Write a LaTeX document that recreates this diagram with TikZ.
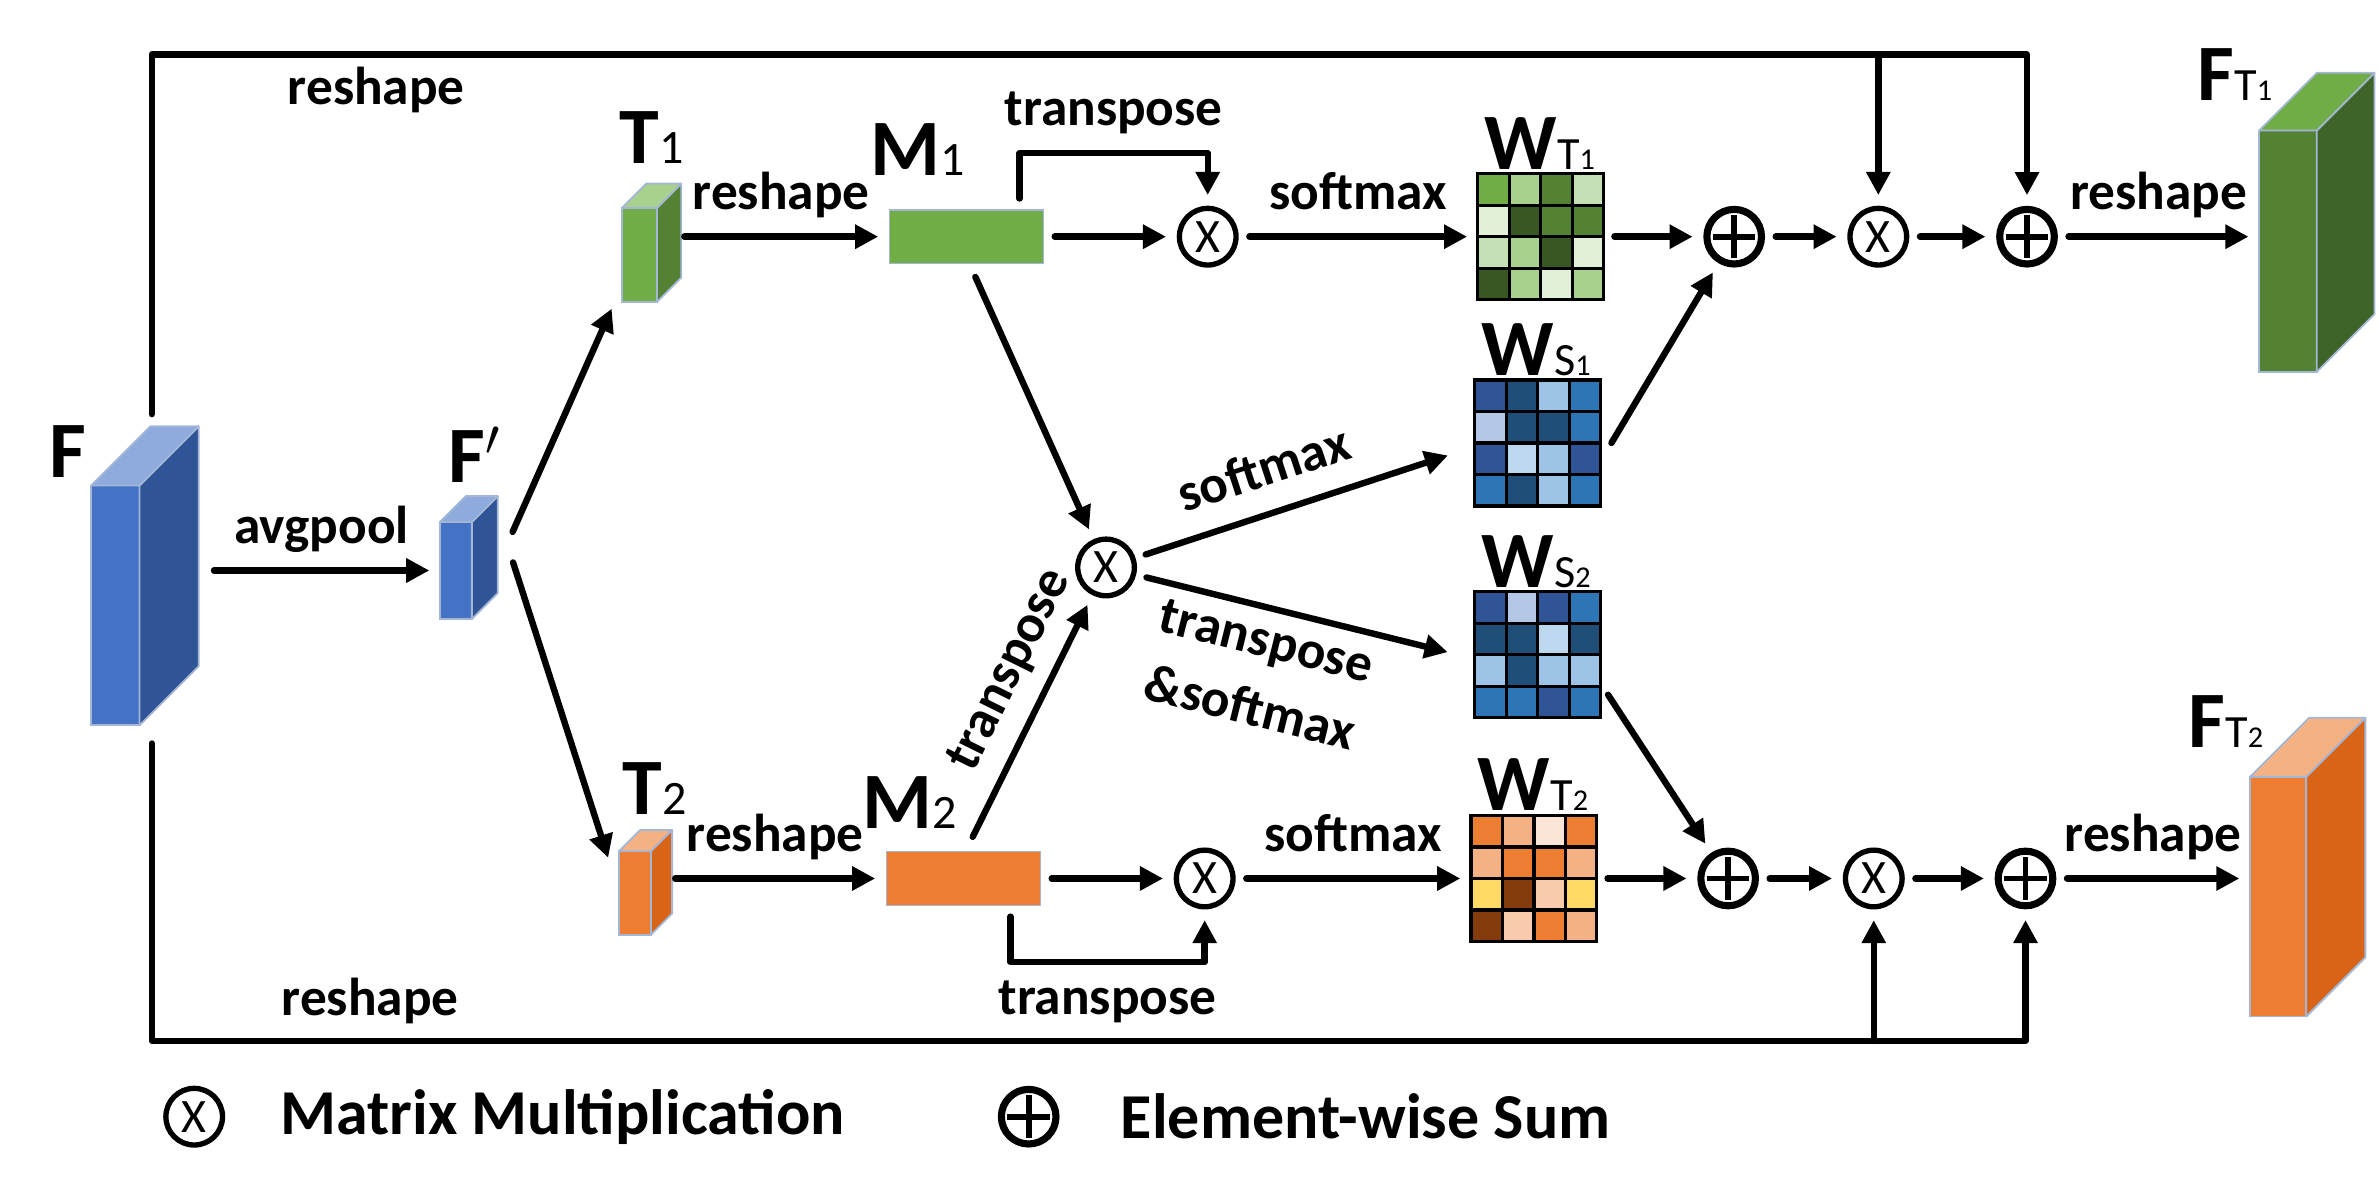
\documentclass[tikz,border=0pt]{standalone}
\usepackage{fontspec}
\setmainfont{Carlito}
\usetikzlibrary{arrows.meta, calc, positioning}

% colours of the faces and cells
\definecolor{edgeblue}{HTML}{A3B6D6}
\definecolor{bFront}{HTML}{4472C4}
\definecolor{bSide}{HTML}{2F5597}
\definecolor{bTop}{HTML}{8FAADC}
\definecolor{gA}{HTML}{70AD47}
\definecolor{gL}{HTML}{A9D18E}
\definecolor{gD}{HTML}{548235}
\definecolor{gXL}{HTML}{C5E0B4}
\definecolor{gXXL}{HTML}{E2F0D9}
\definecolor{gK}{HTML}{385723}
\definecolor{gSide}{HTML}{3F6428}
\definecolor{bR}{HTML}{2F5597}
\definecolor{bN}{HTML}{1F4E79}
\definecolor{bL}{HTML}{9DC3E6}
\definecolor{bM}{HTML}{2E75B6}
\definecolor{bV}{HTML}{B4C7E7}
\definecolor{bXL}{HTML}{BDD7EE}
\definecolor{oA}{HTML}{ED7D31}
\definecolor{oL}{HTML}{F4B183}
\definecolor{oXL}{HTML}{FBE5D6}
\definecolor{oY}{HTML}{FFD966}
\definecolor{oK}{HTML}{843C0C}
\definecolor{oP}{HTML}{F8CBAD}
\definecolor{oSide}{HTML}{D86418}

\newcommand{\nsub}[1]{{\fontsize{13.5}{13.5}\selectfont\mdseries #1}}
\newcommand{\wsub}[2]{{\fontsize{13}{13}\selectfont\mdseries #1{\fontsize{8.5}{8.5}\selectfont #2}}}

% name, front centre, width, height, depth, front, side, top
\newcommand{\featcube}[8]{%
  \node[cubeface, fill=#6, minimum width=#3*0.015cm, minimum height=#4*0.015cm] (#1) at (#2) {};
  \filldraw[cubeedge, fill=#7] (#1.south east) -- ++(#5,-#5) -- ++(0,-#4) -- (#1.north east) -- cycle;
  \filldraw[cubeedge, fill=#8] (#1.north west) -- ++(#5,-#5) -- ++(#3,0) -- (#1.north east) -- cycle;
}

% name, centre, 16 cell colours row by row
\newcommand{\wgrid}[3]{%
  \node[gridbox] (#1) at (#2) {};
  \foreach \wcolor [count=\wi from 0] in {#3} {%
    \pgfmathtruncatemacro{\wrow}{\wi/4}%
    \pgfmathtruncatemacro{\wcol}{mod(\wi,4)}%
    \fill[\wcolor] ($(#1.north west)+(\wcol*20.75,\wrow*20.75)$) rectangle ++(20.75,20.75);
  }
  \foreach \k in {0,...,4} {%
    \draw[gridline] ($(#1.north west)+(\k*20.75,0)$) -- ++(0,83);
    \draw[gridline] ($(#1.north west)+(0,\k*20.75)$) -- ++(83,0);
  }
}

\tikzset{
  arr/.style={line width=1.8pt, line cap=round, line join=round,
    -{Triangle[length=6.5pt,width=6.5pt]}, shorten >=3pt, shorten <=3pt},
  lbl/.style={font=\fontsize{15}{19.5}\selectfont\bfseries, inner sep=3.5pt},
  arrlbl/.style={lbl, text height=10.2pt, text depth=3.3pt},
  big/.style={font=\fontsize{22.5}{27}\selectfont\bfseries, inner sep=0pt},
  legend/.style={font=\fontsize{18}{22}\selectfont\bfseries, inner sep=0pt},
  mult/.style={circle, draw, line width=1.5pt, minimum size=0.56cm, inner sep=0pt,
    font=\fontsize{13.5}{13.5}\selectfont},
  plus/.style={circle, draw, line width=2pt, minimum size=0.54cm, inner sep=0pt,
    path picture={
      \draw[line width=1.6pt] ([xshift=-0.21cm]path picture bounding box.center) -- ([xshift=0.21cm]path picture bounding box.center);
      \draw[line width=1.6pt] ([yshift=-0.21cm]path picture bounding box.center) -- ([yshift=0.21cm]path picture bounding box.center);
    }},
  cubeface/.style={rectangle, draw=edgeblue, line width=0.5pt, inner sep=0pt, outer sep=0pt},
  cubeedge/.style={draw=edgeblue, line width=0.5pt, line join=round},
  mrect/.style={rectangle, draw=edgeblue, line width=0.4pt, minimum width=1.52cm, minimum height=0.53cm, inner sep=0pt},
  gridbox/.style={rectangle, minimum size=1.245cm, inner sep=0pt, outer sep=0pt},
  gridline/.style={line width=0.9pt, line cap=rect},
}

\begin{document}
\begin{tikzpicture}[x=0.015cm, y=-0.015cm]
  \useasboundingbox (0,0) rectangle (1568,784);

  % feature maps
  \featcube{F}{76,399}{32}{158}{39}{bFront}{bSide}{bTop}
  \featcube{Fp}{300.5,376}{21}{64}{17}{bFront}{bSide}{bTop}
  \featcube{T1}{421.5,168}{23}{62}{16}{gA}{gD}{gL}
  \featcube{T2}{418.5,588.5}{21}{55}{14}{oA}{oSide}{oL}
  \featcube{FT1}{1508,165.5}{38}{159}{38}{gD}{gSide}{gA}
  \featcube{FT2}{1501.5,591}{37}{158}{39}{oA}{oSide}{oL}

  \node[mrect, fill=gA] (M1) at (637,156) {};
  \node[mrect, fill=oA] (M2) at (635,579) {};

  % weight matrices
  \wgrid{WT1}{1015.5,156}{gA,gL,gD,gXL, gXXL,gK,gD,gD, gXL,gL,gK,gXXL, gK,gL,gXXL,gL}
  \wgrid{WS1}{1013.5,292}{bR,bN,bL,bM, bV,bN,bN,bM, bR,bXL,bL,bR, bM,bN,bL,bM}
  \wgrid{WS2}{1013.5,431.5}{bR,bV,bR,bM, bN,bN,bXL,bN, bL,bN,bL,bL, bM,bM,bR,bM}
  \wgrid{WT2}{1011,579}{oA,oL,oXL,oA, oL,oA,oA,oL, oY,oK,oP,oY, oK,oP,oA,oL}

  % operators
  \node[mult] (ox1) at (796,156) {X};
  \node[mult] (ox2) at (794,579) {X};
  \node[mult] (oxc) at (729,374) {X};
  \node[plus] (op1) at (1143,156) {};
  \node[mult] (ox3) at (1238,156) {X};
  \node[plus] (op2) at (1336,156) {};
  \node[plus] (op3) at (1139,579) {};
  \node[mult] (ox4) at (1235,579) {X};
  \node[plus] (op4) at (1335,579) {};

  % labels
  \node[big, anchor=base west] (lF) at (32,315) {F};
  \node[big, anchor=base west] (lFp) at (295,318) {F$'$};
  \node[big, anchor=base west] (lT1) at (408,108) {T\nsub{1}};
  \node[big, anchor=base west] (lM1) at (573,116) {M\nsub{1}};
  \node[big, anchor=base west] (lT2) at (410,537) {T\nsub{2}};
  \node[big, anchor=base west] (lM2) at (568,546) {M\nsub{2}};
  \node[big, anchor=base west] (lWT1) at ($(WT1.north west)+(4,-3)$) {W\wsub{T}{1}};
  \node[big, anchor=base west] (lWS1) at ($(WS1.north west)+(4,-3)$) {W\wsub{S}{1}};
  \node[big, anchor=base west] (lWS2) at ($(WS2.north west)+(4,-3)$) {W\wsub{S}{2}};
  \node[big, anchor=base west] (lWT2) at ($(WT2.north west)+(4,-3)$) {W\wsub{T}{2}};
  \node[big, anchor=base west] (lFT1) at ($(FT1.north west)+(-41,-20)$) {F\wsub{T}{1}};
  \node[big, anchor=base west] (lFT2) at ($(FT2.north west)+(-41,-19)$) {F\wsub{T}{2}};

  % skip paths from F
  \coordinate (Fup) at ($(F.north)+(24,-40)$);
  \coordinate (Fdn) at ($(F.south)+(24,5)$);
  \coordinate (topbar) at (0,36);
  \coordinate (botbar) at (0,686);
  \draw[arr] (Fup) |- (op2 |- topbar) -- (op2);
  \draw[arr, shorten <=0pt] (ox3 |- topbar) -- (ox3);
  \draw[arr] (Fdn) |- (op4 |- botbar) -- (op4);
  \draw[arr, shorten <=0pt] (ox4 |- botbar) -- (ox4);
  \node[arrlbl, below] (rsTop) at (248,36) {reshape};
  \node[arrlbl, above] (rsBot) at (244,686) {reshape};

  % connect the nodes
  \draw[arr] ($(F.east |- Fp.west)+(42,0)$) -- node[arrlbl, above] (lavg) {avgpool} (Fp.west);
  \draw[arr] ($(Fp.east)+(24,-19)$) -- ($(T1.south west)+(-4,-2)$);
  \draw[arr] ($(Fp.east)+(25,-12)$) -- ($(T2.north west)+(-5,11)$);
  \draw[arr] ($(T1.east |- M1)+(11,0)$) -- node[arrlbl, above] (lrs1) {reshape} (M1);
  \draw[arr] ($(T2.east |- M2)+(9,0)$) -- node[arrlbl, above] (lrs2) {reshape} (M2);

  \draw[arr] (M1) -- (ox1);
  \draw[arr] ([xshift=0.525cm]M1.north) -- ++(0,-37) -| node[arrlbl, above, pos=0.25] (ltr1) {transpose} (ox1);
  \draw[arr] (M2) -- (ox2);
  \draw[arr] ([xshift=0.465cm]M2.south) -- ++(0,37) -| node[arrlbl, below, pos=0.25] (ltr2) {transpose} (ox2);

  \draw[arr] ($(M1.south)+(3,2)$) -- (oxc);
  \draw[arr] ($(M2.north)+(3,-3)$) -- node[arrlbl, sloped, above, pos=0.63] (ltr3) {transpose} (oxc);
  \draw[arr] (oxc) -- node[arrlbl, sloped, above, pos=0.44] (lsm3) {softmax} ($(WS1.west)+(-11,6)$);
  \draw[arr] (oxc) -- node[lbl, sloped, below, align=center, pos=0.43] (lsm4) {transpose\\\&softmax} ($(WS2.west)+(-11,0)$);

  \draw[arr] (ox1) -- node[arrlbl, above] (lsm1) {softmax} (WT1);
  \draw[arr] (ox2) -- node[arrlbl, above] (lsm2) {softmax} (WT2);

  \draw[arr] (WT1) -- (op1);
  \draw[arr] ($(WS1.east)+(3.5,6)$) -- (op1);
  \draw[arr] (op1) -- (ox3);
  \draw[arr] (ox3) -- (op2);
  \draw[arr] (op2) -- node[arrlbl, above] (lrs3) {reshape} (op2 -| FT1.west);

  \draw[arr] (WT2) -- (op3);
  \draw[arr] ($(WS2.east)+(1,20.5)$) -- (op3);
  \draw[arr] (op3) -- (ox4);
  \draw[arr] (ox4) -- (op4);
  \draw[arr] (op4) -- node[arrlbl, above] (lrs4) {reshape} (op4 -| FT2.west);

  % legend
  \node[mult] (lgX) at (128,736) {X};
  \node[legend, right=0.54cm of lgX] (lgXt) {Matrix Multiplication};
  \node[plus] (lgP) at (678,736) {};
  \node[legend, right=0.6cm of lgP] (lgPt) {Element-wise Sum};
\end{tikzpicture}
\end{document}
